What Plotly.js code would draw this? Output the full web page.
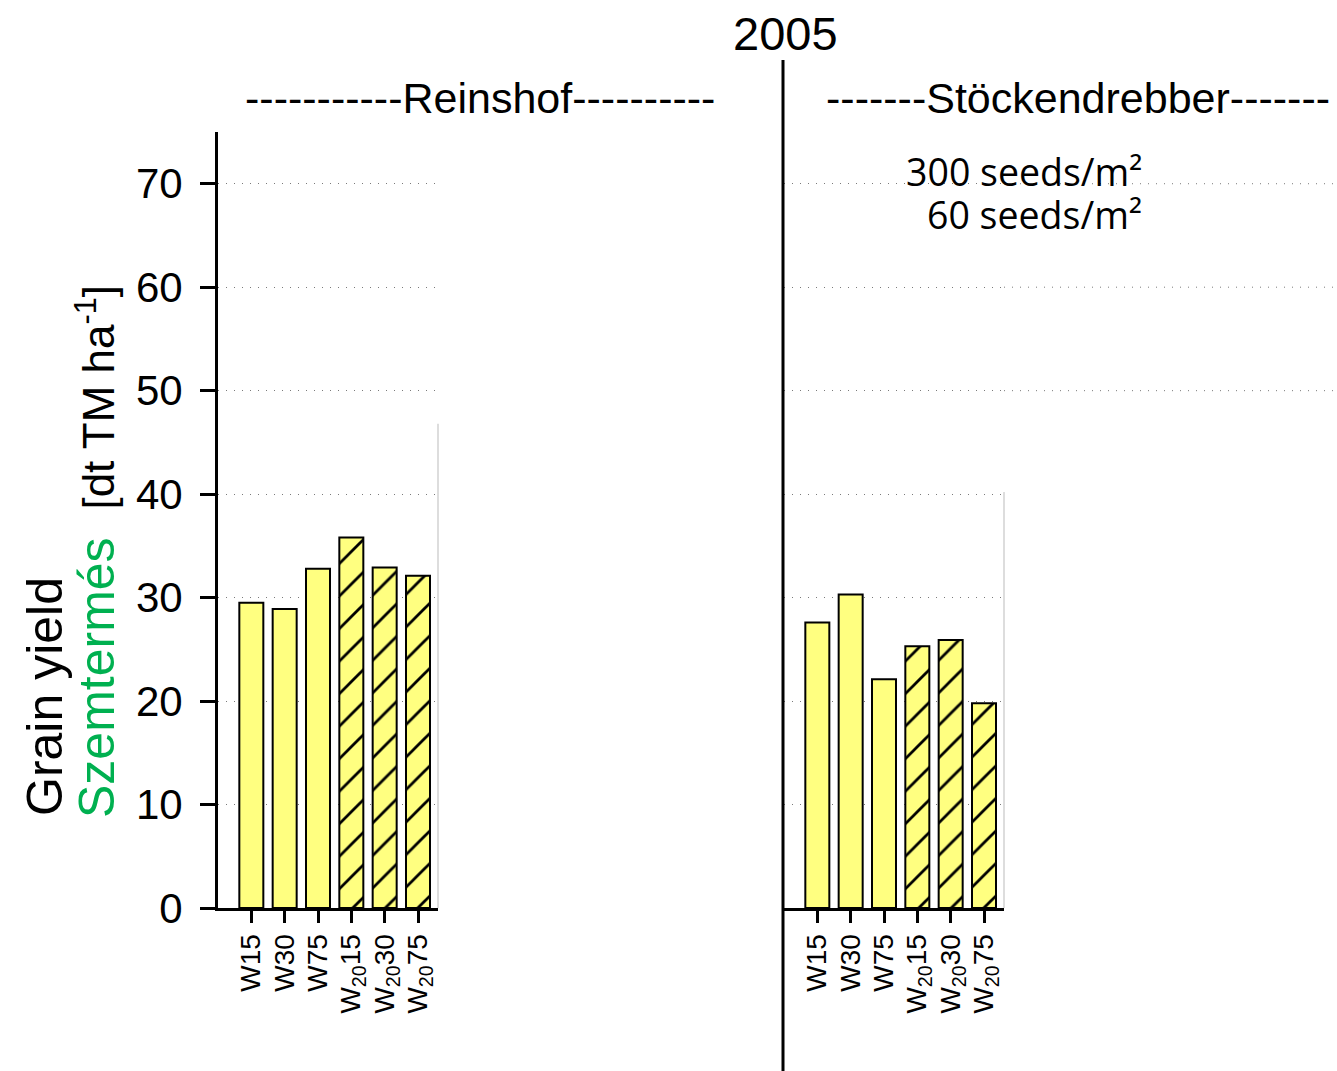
<!DOCTYPE html>
<html>
<head>
<meta charset="utf-8">
<script src="https://cdn.plot.ly/plotly-3.0.1.min.js"></script>
<style>html,body{margin:0;padding:0;background:#fff;}#chart{width:1337px;height:1071px;}</style>
</head>
<body>
<div id="chart"></div>
<script>
// ---- data ----
const categories = ['W15', 'W30', 'W75', 'W<sub>20</sub>15', 'W<sub>20</sub>30', 'W<sub>20</sub>75'];
const reinshof = [29.5, 28.9, 32.8, 35.8, 32.9, 32.1];
const stockendrebber = [27.6, 30.3, 22.1, 25.3, 25.9, 19.8];
const hatch = ['', '', '', '/', '/', '/'];
const yTicks = [0, 10, 20, 30, 40, 50, 60, 70];
const mainTitle = '2005';
const site1 = '-----------Reinshof----------';
const site2 = '-------Stöckendrebber-------';
const legend1 = '300 seeds/m²';
const legend2 = '60 seeds/m²';

const W = 1337, H = 1071;
const px = v => v / W;
const py = v => (H - v) / H;

const FONT = 'Liberation Sans, Arial, sans-serif';
const YELLOW = '#FFFF80';
const GRID = '#7a7a7a';
const DOT = '1px,7px';

function barTrace(y, xa, ya) {
  return {
    type: 'bar', x: categories, y: y, xaxis: xa, yaxis: ya, width: 0.72,
    marker: {
      color: YELLOW,
      line: {color: '#000', width: 2},
      pattern: {shape: hatch, fgcolor: '#000', bgcolor: YELLOW, size: 23, solidity: 0.12, fillmode: 'replace'}
    },
    showlegend: false, hoverinfo: 'skip'
  };
}

const data = [barTrace(reinshof, 'x', 'y'), barTrace(stockendrebber, 'x2', 'y2')];

const xBase = {
  type: 'category', range: [-1, 5.6], showline: true, linewidth: 3, linecolor: '#000',
  tickmode: 'array', tickvals: categories, ticktext: categories,
  ticks: 'outside', ticklen: 12, tickwidth: 3, tickcolor: '#000', tickangle: -90,
  tickfont: {family: FONT, size: 28, color: '#000'}, showgrid: false, zeroline: false, fixedrange: true
};
const yBase = {
  range: [0, 75], tickmode: 'array', tickvals: yTicks, showgrid: true, gridcolor: GRID, gridwidth: 1,
  griddash: DOT, zeroline: false, fixedrange: true
};

const layout = {
  width: W, height: H, margin: {l: 0, r: 0, t: 0, b: 0},
  paper_bgcolor: '#fff', plot_bgcolor: 'rgba(0,0,0,0)', showlegend: false, barmode: 'overlay',
  xaxis: Object.assign({}, xBase, {domain: [px(218), px(438)], anchor: 'y'}),
  xaxis2: Object.assign({}, xBase, {domain: [px(784), px(1004)], anchor: 'y2'}),
  yaxis: Object.assign({}, yBase, {
    domain: [py(908), py(132)], anchor: 'x', showline: true, linewidth: 3, linecolor: '#000',
    ticks: 'outside', ticklen: 15, tickwidth: 3, tickcolor: '#000', ticklabelstandoff: 9,
    ticktext: yTicks.map(String), tickfont: {family: FONT, size: 42, color: '#000'}
  }),
  yaxis2: Object.assign({}, yBase, {
    domain: [py(908), py(132)], anchor: 'x2', showline: false, ticks: '', showticklabels: false
  }),
  shapes: [
    // long vertical separator
    {type: 'line', xref: 'paper', yref: 'paper', x0: px(783), x1: px(783), y0: 0, y1: py(60), line: {color: '#000', width: 3}},
    // faint frame lines
    {type: 'line', xref: 'x domain', yref: 'y', x0: 1, x1: 1, y0: 0, y1: 46.8, line: {color: '#bbb', width: 1}},
    {type: 'line', xref: 'x2 domain', yref: 'y2', x0: 1, x1: 1, y0: 0, y1: 40.2, line: {color: '#bbb', width: 1}},
    // extended dotted grid lines on the right
    ...[50, 60, 70].map(v => ({type: 'line', xref: 'paper', yref: 'y2', x0: px(1004), x1: 1, y0: v, y1: v,
      line: {color: GRID, width: 1, dash: DOT}}))
  ],
  annotations: [
    {text: mainTitle, xref: 'paper', yref: 'paper', x: px(785), y: py(33), xanchor: 'center', yanchor: 'middle',
      showarrow: false, font: {family: FONT, size: 47, color: '#000'}},
    {text: site1, xref: 'paper', yref: 'paper', x: px(480), y: py(98), xanchor: 'center', yanchor: 'middle',
      showarrow: false, font: {family: FONT, size: 43, color: '#000'}},
    {text: site2, xref: 'paper', yref: 'paper', x: px(1078), y: py(98), xanchor: 'center', yanchor: 'middle',
      showarrow: false, font: {family: FONT, size: 43, color: '#000'}},
    {text: legend1, xref: 'paper', yref: 'paper', x: px(1144), y: py(172), xanchor: 'right', yanchor: 'middle',
      showarrow: false, font: {family: 'Open Sans, Noto Sans, sans-serif', size: 37.5, color: '#000'}},
    {text: legend2, xref: 'paper', yref: 'paper', x: px(1144), y: py(215), xanchor: 'right', yanchor: 'middle',
      showarrow: false, font: {family: 'Open Sans, Noto Sans, sans-serif', size: 37.5, color: '#000'}},
    {text: 'Grain yield', xref: 'paper', yref: 'paper', x: px(45), y: py(697), xanchor: 'center', yanchor: 'middle',
      textangle: -90, showarrow: false, font: {family: FONT, size: 50, color: '#000'}},
    {text: '<span style="color:#00B050">Szemtermés</span>  <span style="font-size:44px">[dt TM ha<sup>-1</sup>]</span>',
      xref: 'paper', yref: 'paper', x: px(97), y: py(552), xanchor: 'center', yanchor: 'middle',
      textangle: -90, showarrow: false, font: {family: FONT, size: 50, color: '#000'}}
  ]
};

Plotly.newPlot('chart', data, layout, {staticPlot: true, displayModeBar: false});
</script>
</body>
</html>
